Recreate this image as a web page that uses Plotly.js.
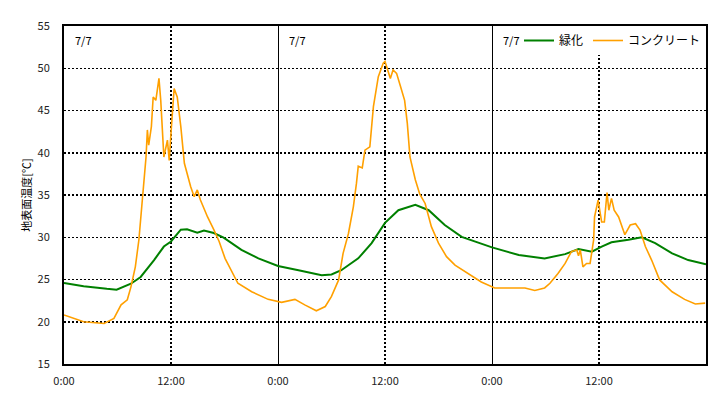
<!DOCTYPE html>
<html><head><meta charset="utf-8">
<script src="https://cdn.plot.ly/plotly-3.0.1.min.js"></script>
<style>html,body{margin:0;padding:0;background:#fff}#c{width:721px;height:398px}
.shapelayer path{shape-rendering:crispEdges}</style>
</head><body><div id="c"></div>
<script>
const seriesNames = ['緑化', 'コンクリート'];
const greenHours = [0, 2.2, 4.8, 5.9, 7.5, 8.6, 10.1, 11.2, 12.0, 12.5, 13.1, 13.8, 14.95, 15.7, 16.8, 17.9, 19.9, 21.8, 24.0, 26.3, 28.9, 30.0, 31.1, 33.0, 34.5, 36.0, 37.5, 39.4, 40.9, 42.7, 44.6, 48.0, 51.0, 53.9, 56.2, 57.7, 58.4, 59.2, 60.3, 61.4, 63.3, 64.8, 66.3, 68.2, 70.0, 72];
const greenTemp = [24.6, 24.2, 23.9, 23.8, 24.5, 25.3, 27.3, 28.9, 29.5, 30.2, 30.9, 30.95, 30.55, 30.8, 30.5, 29.95, 28.5, 27.5, 26.6, 26.1, 25.5, 25.6, 26.1, 27.5, 29.3, 31.7, 33.2, 33.85, 33.2, 31.45, 30.05, 28.8, 27.9, 27.5, 28.0, 28.6, 28.5, 28.3, 28.9, 29.4, 29.7, 30.0, 29.3, 28.1, 27.3, 26.8];
const concHours = [0, 2.2, 4.5, 5.6, 6.4, 7.1, 7.5, 8.0, 8.4, 8.8, 9.2, 9.35, 9.5, 9.8, 10.0, 10.3, 10.65, 10.85, 11.2, 11.6, 11.8, 12.05, 12.35, 12.7, 13.1, 13.5, 14.2, 14.6, 14.95, 15.3, 16.1, 16.8, 17.4, 18.06, 18.8, 19.5, 21.05, 22.9, 24.4, 25.9, 27.0, 28.3, 29.3, 30.0, 30.8, 31.3, 31.9, 32.45, 32.8, 33.0, 33.45, 33.75, 34.3, 34.7, 35.25, 35.8, 36.0, 36.6, 36.9, 37.3, 37.7, 38.2, 38.5, 38.8, 39.4, 39.9, 40.5, 41.2, 42.0, 42.9, 43.85, 45.3, 46.8, 48.3, 50.2, 51.7, 52.8, 53.9, 54.5, 55.4, 56.2, 56.9, 57.5, 57.7, 57.9, 58.2, 58.6, 59.0, 59.4, 59.5, 59.9, 60.3, 60.6, 60.9, 61.1, 61.4, 61.7, 62.2, 62.9, 63.5, 64.1, 64.6, 65.2, 65.9, 66.8, 68.2, 69.6, 70.8, 71.9];
const concTemp = [20.8, 20.0, 19.8, 20.4, 22.0, 22.6, 24.1, 26.5, 29.7, 34.4, 39.5, 42.7, 40.9, 43.1, 46.6, 46.2, 48.8, 46.2, 39.5, 41.5, 39.1, 43.1, 47.6, 46.6, 43.1, 38.75, 36.0, 34.8, 35.6, 34.4, 32.4, 30.9, 29.5, 27.5, 25.9, 24.55, 23.55, 22.65, 22.3, 22.65, 22.0, 21.3, 21.8, 23.0, 24.95, 28.1, 30.45, 33.6, 36.4, 38.4, 38.2, 40.3, 40.7, 45.45, 49.0, 50.6, 50.8, 48.8, 49.8, 49.4, 48.0, 46.2, 43.5, 39.5, 36.8, 35.1, 34.0, 31.25, 29.3, 27.7, 26.7, 25.7, 24.7, 24.0, 24.0, 24.0, 23.7, 24.0, 24.55, 25.7, 26.9, 28.3, 28.5, 27.8, 28.5, 26.5, 26.9, 26.9, 29.7, 32.4, 34.4, 31.8, 31.8, 35.3, 33.2, 34.6, 33.2, 32.4, 30.3, 31.45, 31.6, 30.85, 28.9, 27.3, 24.95, 23.55, 22.65, 22.1, 22.2];
const xTickVals = [0, 12, 24, 36, 48, 60];
const xTickText = ['0:00', '12:00', '0:00', '12:00', '0:00', '12:00'];
const dayLabels = ['7/7', '7/7', '7/7'];
const dayStarts = [0, 24, 48];
const yTitle = '地表面温度[℃]';

const font = 'Noto Sans CJK JP, Noto Sans, sans-serif';
const traces = [
  {x: greenHours, y: greenTemp, name: seriesNames[0], mode: 'lines', line: {color: '#008000', width: 2}},
  {x: concHours, y: concTemp, name: seriesNames[1], mode: 'lines', line: {color: '#ffa000', width: 1.6}}
];
const shapes = [];
xTickVals.forEach((v, i) => {
  if (v === 0) return;
  const solid = (v % 24 === 0);
  shapes.push({type: 'line', xref: 'x', yref: 'paper', x0: v, x1: v, y0: 0, y1: 1, layer: 'below',
    line: {color: '#000', width: solid ? 1 : 2, dash: solid ? 'solid' : '2px,2px'}});
});
const annotations = dayLabels.map((t, i) => ({
  text: t, xref: 'x', yref: 'paper', x: dayStarts[i] + 1.0, y: 0.958, xanchor: 'left', yanchor: 'middle',
  showarrow: false, font: {family: font, size: 11, color: '#000'}
}));
const layout = {
  width: 721, height: 398,
  margin: {l: 64, r: 15, t: 26, b: 34},
  paper_bgcolor: '#fff', plot_bgcolor: '#fff',
  font: {family: font, size: 11, color: '#000'},
  showlegend: true,
  legend: {orientation: 'h', xanchor: 'right', x: 1.0, yanchor: 'top', y: 1.0, bgcolor: '#fff',
    font: {family: font, size: 12, color: '#000'}, itemwidth: 30, tracegroupgap: 0,
    xref: 'paper', yref: 'paper'},
  xaxis: {range: [0, 72], tickvals: xTickVals, ticktext: xTickText, showgrid: false, zeroline: false,
    showline: true, linecolor: '#000', linewidth: 2, mirror: true, ticks: '', ticklabelstandoff: 6,
    tickfont: {family: font, size: 11, color: '#222'}},
  yaxis: {range: [15, 55], dtick: 5, tick0: 15, showgrid: true, gridcolor: '#000', gridwidth: 1.5, griddash: '2px,2px',
    zeroline: false, showline: true, linecolor: '#000', linewidth: 2, mirror: true, ticks: '', ticklabelstandoff: 10,
    tickfont: {family: font, size: 11, color: '#222'},
    title: {text: yTitle, standoff: 4, font: {family: font, size: 11, color: '#000'}}},
  shapes: shapes,
  annotations: annotations
};
Plotly.newPlot('c', traces, layout, {displayModeBar: false, staticPlot: true});
</script></body></html>
